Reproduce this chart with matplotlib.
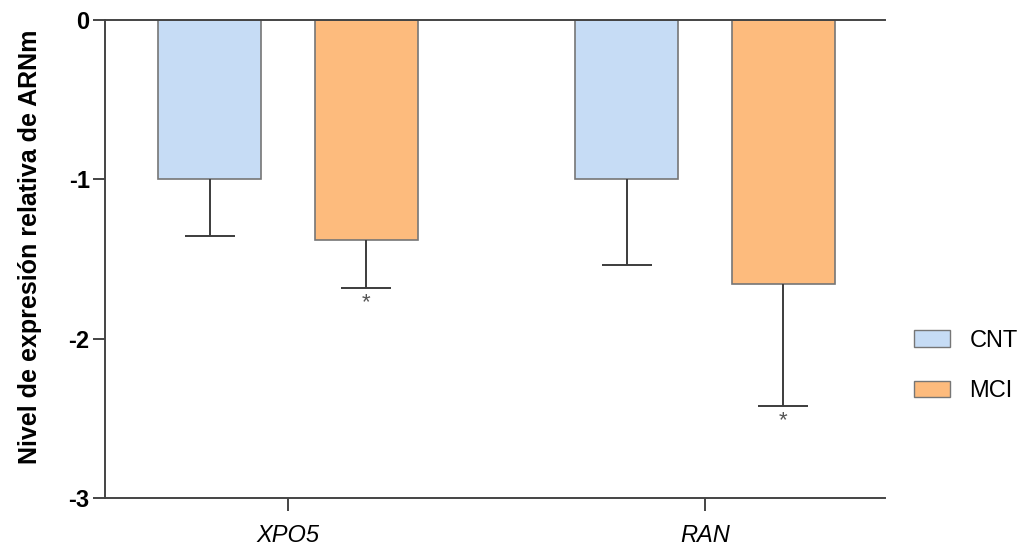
import matplotlib
matplotlib.use("Agg")
import matplotlib.pyplot as plt
import numpy as np
from matplotlib.patches import Patch

plt.rcParams['font.family'] = ['Liberation Sans', 'DejaVu Sans']

genes = ["XPO5", "RAN"]
groups = ["CNT", "MCI"]
cnt_mean = [-1.0, -1.0]
cnt_err = [0.355, 0.54]
mci_mean = [-1.38, -1.66]
mci_err = [0.30, 0.76]
mci_sig = ["*", "*"]

colors = {"CNT": "#c6dcf5", "MCI": "#fdbb7d"}
edge = "#767676"

fig = plt.figure(figsize=(10.24, 5.48), dpi=100)
ax = fig.add_axes([105/1024, 1-498/548, (885-105)/1024, (498-20)/548])

x = np.arange(len(genes))
w = 0.247
off = 0.1875

for means, errs, name, sign in [(cnt_mean, cnt_err, "CNT", -1), (mci_mean, mci_err, "MCI", 1)]:
    xs = x + sign * off
    ax.bar(xs, means, width=w, color=colors[name], edgecolor=edge, linewidth=1.2, zorder=2)
    line, caps, bars = ax.errorbar(xs, means, yerr=[errs, [0]*len(errs)], fmt="none",
                                   ecolor="#3c3c3c", elinewidth=1.4, capsize=18,
                                   capthick=1.4, zorder=3)
    if len(caps) > 1:
        caps[1].set_visible(False)

for xi, m, e, s in zip(x + off, mci_mean, mci_err, mci_sig):
    ax.text(xi, m - e - 0.03, s, ha="center", va="top", fontsize=16, color="#555555")

ax.set_ylim(-3, 0)
ax.set_xlim(-0.439, 1.432)
ax.set_yticks([0, -1, -2, -3])
ax.set_yticklabels(["0", "-1", "-2", "-3"], fontsize=17, fontweight="bold")
ax.set_xticks(x)
ax.set_xticklabels(genes, fontsize=17, fontstyle="italic")
ax.set_ylabel("Nivel de expresión relativa de ARNm", fontsize=18, fontweight="bold", labelpad=19)
ax.yaxis.label.set_y(0.525)

for sp in ["left", "bottom", "top"]:
    ax.spines[sp].set_color("#444444")
    ax.spines[sp].set_linewidth(1.4)
ax.spines["right"].set_visible(False)
ax.tick_params(axis="both", direction="out", length=9, width=1.4, color="#444444")
ax.tick_params(axis="y", pad=2)
ax.tick_params(axis="x", pad=10)

handles = [Patch(facecolor=colors[g], edgecolor=edge, label=g) for g in groups]
leg = fig.legend(handles=handles, loc="center left", bbox_to_anchor=(907/1024, 1-366/548),
                 frameon=False, fontsize=17, handlelength=1.5, handleheight=0.7,
                 labelspacing=1.2, handletextpad=0.85, borderaxespad=0, borderpad=0.3)

fig.savefig("out.png", dpi=100)
